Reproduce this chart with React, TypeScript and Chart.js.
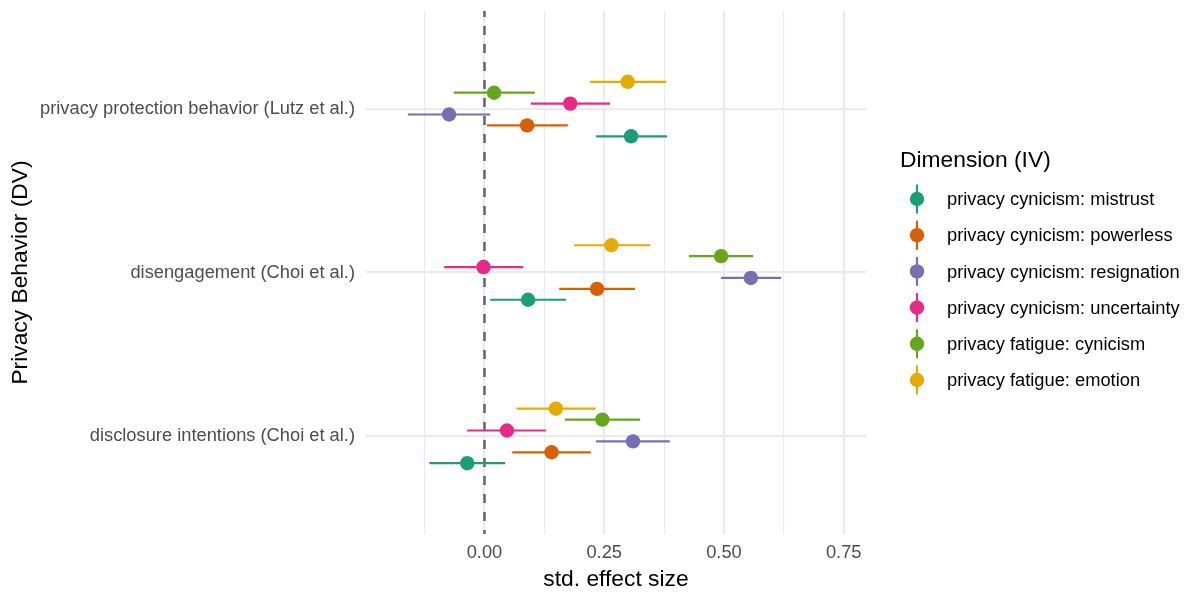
import React, { useEffect, useRef } from 'react';
import { Chart, registerables } from 'chart.js';

Chart.register(...registerables);

// ---- data ----
// categories on the y axis, bottom (1) to top (3)
const categories = [
  'disclosure intentions (Choi et al.)',
  'disengagement (Choi et al.)',
  'privacy protection behavior (Lutz et al.)',
];

const dimensions = [
  'privacy cynicism: mistrust',
  'privacy cynicism: powerless',
  'privacy cynicism: resignation',
  'privacy cynicism: uncertainty',
  'privacy fatigue: cynicism',
  'privacy fatigue: emotion',
];

const dimensionColors = ['#1B9E77', '#D95F02', '#7570B3', '#E7298A', '#66A61E', '#E6AB02'];

// estimates per dimension, in category order [disclosure, disengagement, protection]
const mistrustEst = [-0.036, 0.091, 0.306];
const mistrustLo = [-0.115, 0.012, 0.233];
const mistrustHi = [0.043, 0.170, 0.381];

const powerlessEst = [0.140, 0.235, 0.089];
const powerlessLo = [0.058, 0.156, 0.005];
const powerlessHi = [0.222, 0.314, 0.174];

const resignationEst = [0.310, 0.556, -0.074];
const resignationLo = [0.233, 0.494, -0.160];
const resignationHi = [0.387, 0.619, 0.012];

const uncertaintyEst = [0.047, -0.002, 0.179];
const uncertaintyLo = [-0.036, -0.084, 0.097];
const uncertaintyHi = [0.128, 0.081, 0.262];

const cynicismEst = [0.246, 0.494, 0.020];
const cynicismLo = [0.168, 0.427, -0.064];
const cynicismHi = [0.325, 0.561, 0.105];

const emotionEst = [0.149, 0.265, 0.299];
const emotionLo = [0.067, 0.187, 0.220];
const emotionHi = [0.232, 0.346, 0.379];

const estimates = [mistrustEst, powerlessEst, resignationEst, uncertaintyEst, cynicismEst, emotionEst];
const lowers = [mistrustLo, powerlessLo, resignationLo, uncertaintyLo, cynicismLo, emotionLo];
const uppers = [mistrustHi, powerlessHi, resignationHi, uncertaintyHi, cynicismHi, emotionHi];

const xTicks = [-0.125, 0, 0.125, 0.25, 0.375, 0.5, 0.625, 0.75];
const xLabelTicks = [0, 0.25, 0.5, 0.75];

const xTitle = 'std. effect size';
const yTitle = 'Privacy Behavior (DV)';
const legendTitle = 'Dimension (IV)';

// ---- style ----
const FONT = '"Liberation Sans", Arial, Helvetica, sans-serif';
const DODGE = 0.4;
const GRID = '#EBEBEB';

const App: React.FC = () => {
  const canvasRef = useRef<HTMLCanvasElement | null>(null);

  useEffect(() => {
    document.body.style.margin = '0';
    const canvas = canvasRef.current;
    if (!canvas) return;

    const n = dimensions.length;
    const datasets = dimensions.map((name, k) => ({
      label: name,
      data: categories.map((_, j) => ({
        x: estimates[k][j],
        y: j + 1 + (k - (n - 1) / 2) * (DODGE / n),
      })),
      backgroundColor: dimensionColors[k],
      borderColor: dimensionColors[k],
      borderWidth: 0,
      pointRadius: 7.2,
      pointHoverRadius: 7.2,
    }));

    const refLine = {
      id: 'refLine',
      beforeDatasetsDraw(chart: any) {
        const { ctx, chartArea, scales } = chart;
        const x = scales.x.getPixelForValue(0);
        ctx.save();
        ctx.strokeStyle = '#666666';
        ctx.lineWidth = 2.5;
        ctx.setLineDash([9, 9]);
        ctx.lineDashOffset = 3;
        ctx.beginPath();
        ctx.moveTo(x, chartArea.top);
        ctx.lineTo(x, chartArea.bottom);
        ctx.stroke();
        ctx.restore();
      },
    };

    const errorBars = {
      id: 'errorBars',
      beforeDatasetsDraw(chart: any) {
        const { ctx, scales } = chart;
        ctx.save();
        ctx.lineWidth = 2.2;
        ctx.lineCap = 'butt';
        chart.data.datasets.forEach((ds: any, k: number) => {
          ctx.strokeStyle = dimensionColors[k];
          ds.data.forEach((pt: any, j: number) => {
            const y = scales.y.getPixelForValue(pt.y);
            const x1 = scales.x.getPixelForValue(lowers[k][j]);
            const x2 = scales.x.getPixelForValue(uppers[k][j]);
            ctx.beginPath();
            ctx.moveTo(x1, y);
            ctx.lineTo(x2, y);
            ctx.stroke();
          });
        });
        ctx.restore();
      },
    };

    const legendPlugin = {
      id: 'customLegend',
      afterDraw(chart: any) {
        const { ctx } = chart;
        ctx.save();
        ctx.fillStyle = '#000000';
        ctx.textAlign = 'left';
        ctx.textBaseline = 'alphabetic';
        ctx.font = `22.8px ${FONT}`;
        ctx.fillText(legendTitle, 900, 167);
        const keyX = 917;
        dimensions.forEach((name, k) => {
          const cy = 199 + k * 36.2;
          ctx.strokeStyle = dimensionColors[k];
          ctx.lineWidth = 2.2;
          ctx.beginPath();
          ctx.moveTo(keyX, cy - 14.5);
          ctx.lineTo(keyX, cy + 14.5);
          ctx.stroke();
          ctx.fillStyle = dimensionColors[k];
          ctx.beginPath();
          ctx.arc(keyX, cy, 7.2, 0, Math.PI * 2);
          ctx.fill();
          ctx.fillStyle = '#000000';
          ctx.font = `18.3px ${FONT}`;
          ctx.fillText(name, 947, cy + 6.2);
        });
        ctx.restore();
      },
    };

    const chart = new Chart(canvas, {
      type: 'scatter',
      data: { datasets },
      plugins: [refLine, errorBars, legendPlugin],
      options: {
        animation: false,
        responsive: true,
        maintainAspectRatio: false,
        devicePixelRatio: 1,
        layout: { padding: { left: 0, right: 327, top: 11, bottom: 0 } },
        plugins: {
          legend: { display: false },
          tooltip: { enabled: false },
          title: { display: false },
        },
        scales: {
          x: {
            type: 'linear',
            min: -0.2474,
            max: 0.7965,
            afterBuildTicks(scale: any) {
              scale.ticks = xTicks.map((v) => ({ value: v }));
            },
            afterFit(scale: any) {
              scale.height = 62;
              scale.paddingLeft = 0;
              scale.paddingRight = 0;
            },
            border: { display: false },
            grid: {
              color: GRID,
              drawTicks: false,
              lineWidth: (c: any) =>
                c.tick && xLabelTicks.includes(c.tick.value) ? 2.2 : 1.1,
            },
            ticks: {
              autoSkip: false,
              maxRotation: 0,
              padding: 8,
              color: '#4D4D4D',
              font: { family: FONT, size: 18.3 },
              callback: (v: any) => (xLabelTicks.includes(Number(v)) ? Number(v).toFixed(2) : ''),
            },
            title: {
              display: true,
              text: xTitle,
              color: '#000000',
              font: { family: FONT, size: 22.8 },
              padding: { top: 0, bottom: 3 },
            },
          },
          y: {
            type: 'linear',
            min: 0.4,
            max: 3.6,
            afterBuildTicks(scale: any) {
              scale.ticks = categories.map((_, j) => ({ value: j + 1 }));
            },
            afterFit(scale: any) {
              scale.width = 366;
              scale.paddingTop = 0;
              scale.paddingBottom = 0;
            },
            border: { display: false },
            grid: { color: GRID, lineWidth: 2.2, drawTicks: false },
            ticks: {
              autoSkip: false,
              padding: 11,
              color: '#4D4D4D',
              font: { family: FONT, size: 18.3 },
              callback: (v: any) => categories[Number(v) - 1] ?? '',
            },
            title: {
              display: true,
              text: yTitle,
              color: '#000000',
              font: { family: FONT, size: 22.8 },
              padding: { top: 7, bottom: 0 },
            },
          },
        },
      },
    });

    return () => chart.destroy();
  }, []);

  return (
    <div style={{ position: 'relative', width: '1193px', height: '596px', background: '#ffffff' }}>
      <canvas ref={canvasRef} />
    </div>
  );
};

export default App;
